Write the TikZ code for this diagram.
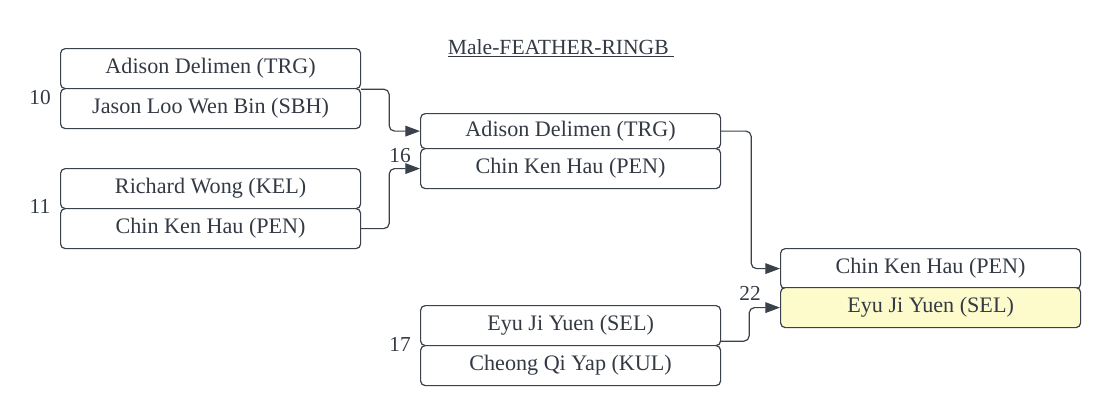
\documentclass[tikz,border=0pt]{standalone}
\usepackage{fontspec}
\setmainfont{Liberation Serif}
\usetikzlibrary{arrows.meta,calc}
\definecolor{strk}{HTML}{3A414A}
\definecolor{txt}{HTML}{333A44}
\definecolor{winfill}{HTML}{FDFBCC}
\begin{document}
\begin{tikzpicture}[x=0.75pt,y=-0.75pt,
  pbox/.style={draw=strk,line width=0.9pt,rounded corners=3.5pt,fill=white,
    minimum width=225pt,minimum height=30pt,inner sep=0pt,anchor=north west,
    text=txt,font=\fontsize{16.6}{19}\selectfont},
  shortbox/.style={pbox,minimum height=26.25pt},
  win/.style={fill=winfill},
  num/.style={text=txt,font=\fontsize{16}{18}\selectfont,inner sep=0pt},
  conn/.style={draw=strk,line width=0.9pt,rounded corners=4pt,-{Triangle[length=11pt,width=8pt]}}]
\useasboundingbox (0,0) rectangle (1100,405);
% title
\node[text=txt,font=\fontsize{16.2}{18}\selectfont,inner sep=0pt] (title) at (561,48) {\underline{Male-FEATHER-RINGB\ }};
% match 10
\node[pbox] (m10a) at (60,48) {Adison Delimen (TRG)};
\node[pbox] (m10b) at (60,88) {Jason Loo Wen Bin (SBH)};
\node[num] (n10) at (40,98) {10};
% match 11
\node[pbox] (m11a) at (60,168) {Richard Wong (KEL)};
\node[pbox] (m11b) at (60,208) {Chin Ken Hau (PEN)};
\node[num] (n11) at (40,206) {11};
% match 16
\node[shortbox] (m16a) at (420,113) {Adison Delimen (TRG)};
\node[pbox] (m16b) at (420,148) {Chin Ken Hau (PEN)};
\node[num] (n16) at (400,156) {16};
% match 17
\node[pbox] (m17a) at (420,305) {Eyu Ji Yuen (SEL)};
\node[pbox] (m17b) at (420,345) {Cheong Qi Yap (KUL)};
\node[num] (n17) at (400,344) {17};
% match 22
\node[pbox] (m22a) at (780,248) {Chin Ken Hau (PEN)};
\node[pbox,win] (m22b) at (780,287) {Eyu Ji Yuen (SEL)};
\node[num] (n22) at (750,293) {22};
% connectors
\draw[conn] (m10a.south east) -- ++(28,0) |- (m16a.west);
\draw[conn] (m11b.east) -- ++(28,0) |- (m16b.west);
\draw[conn] (m16a.east) -- ++(30,0) |- (m22a.west);
\draw[conn] ($(m17a.south east)+(0,-5)$) -- ++(28,0) |- (m22b.west);
\end{tikzpicture}
\end{document}
